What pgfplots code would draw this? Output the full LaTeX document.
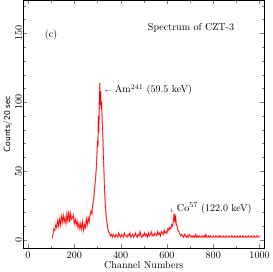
\documentclass[border=0pt]{standalone}
\usepackage{pgfplots}
\pgfplotsset{compat=1.18}
\begin{document}
\begin{tikzpicture}
\begin{axis}[
  scale only axis,
  width=239pt, height=246pt,
  xmin=-20, xmax=1020, ymin=-6, ymax=174,
  xtick={0,200,400,600,800,1000},
  minor xtick={100,300,500,700,900},
  ytick={0,50,100,150},
  minor ytick={10,20,30,40,60,70,80,90,110,120,130,140,160,170},
  /pgf/number format/set thousands separator={},
  tick align=inside,
  major tick length=4pt, minor tick length=2.5pt,
  ticklabel style={font=\normalsize},
  yticklabel style={rotate=90, anchor=south, yshift=-2pt},
  xlabel={Channel Numbers},
  ylabel={\sffamily Counts/20 sec},
  xlabel style={font=\normalsize, yshift=4pt},
  ylabel style={font=\small, yshift=-4pt},
  axis line style={black, line width=0.6pt},
  clip=true,
]
\pgfplotstableread{
x y
104 1
108 4
112 8
116 7
120 11
124 9
128 14
132 10
136 15
140 11
144 17
148 13
152 18
156 13
160 16
164 12
168 19
172 14
176 21
180 13
184 19
188 15
192 16
196 18
200 12
204 15
208 11
212 14
216 9
220 12
224 8
228 12
232 8
236 13
240 7
244 11
248 9
252 15
256 11
260 16
264 13
268 18
272 21
276 19
280 26
284 30
288 38
292 45
296 55
300 72
302 68
304 90
306 78
308 100
310 114
312 98
314 108
316 95
318 100
320 88
322 80
324 72
326 60
328 50
330 40
332 32
334 25
336 20
340 14
344 9
348 6
352 5
356 3
360 4
364 2
368 4
372 3
376 2
380 4
384 3
388 2
392 5
396 3
400 2
404 4
408 3
412 2
416 5
420 3
424 3
428 2
432 4
436 3
440 5
444 2
448 3
452 4
456 2
460 3
464 5
468 3
472 2
476 4
480 3
484 6
488 3
492 2
496 4
500 3
504 5
508 3
512 4
516 2
520 5
524 3
528 4
532 6
536 3
540 4
544 3
548 5
552 4
556 3
560 6
564 4
568 5
572 3
576 6
580 5
584 4
588 7
592 5
596 6
600 5
604 8
608 7
612 9
616 8
620 11
624 10
628 14
630 17
632 15
634 19
636 14
638 16
640 12
644 10
648 7
652 6
656 4
660 3
664 4
668 3
672 2
676 4
680 3
684 2
688 3
692 2
696 4
700 3
704 2
708 3
712 2
716 3
720 2
724 4
728 2
732 3
736 2
740 3
744 2
748 2
752 3
756 2
760 3
764 2
768 4
772 2
776 2
780 3
784 2
788 3
792 2
796 2
800 3
804 2
808 2
812 3
816 2
820 2
824 3
828 2
832 3
836 2
840 2
844 3
848 2
852 2
856 3
860 2
864 2
868 3
872 2
876 2
880 3
884 2
888 2
892 3
896 2
900 2
904 3
908 2
912 2
916 3
920 2
924 2
928 3
932 2
936 2
940 3
944 2
948 2
952 3
956 2
960 2
964 3
968 2
972 2
976 3
980 2
984 2
988 3
992 2
996 2
1000 3
}\spec
\addplot[red!30, line width=1.4pt, no markers] table {\spec};
\addplot[red, line width=0.6pt, no markers] table {\spec};
\node[anchor=center] at (axis cs:100,149) {(c)};
\node[anchor=center] at (axis cs:704,154) {Spectrum of CZT-3};
\node[anchor=west, inner sep=0pt] at (axis cs:330,109) {{\tiny$\leftarrow$} Am$^{241}$ (59.5 keV)};
\node[anchor=west, inner sep=0pt] at (axis cs:612,23) {{\tiny$\downarrow$} Co$^{57}$ (122.0 keV)};
\end{axis}
\end{tikzpicture}
\end{document}
